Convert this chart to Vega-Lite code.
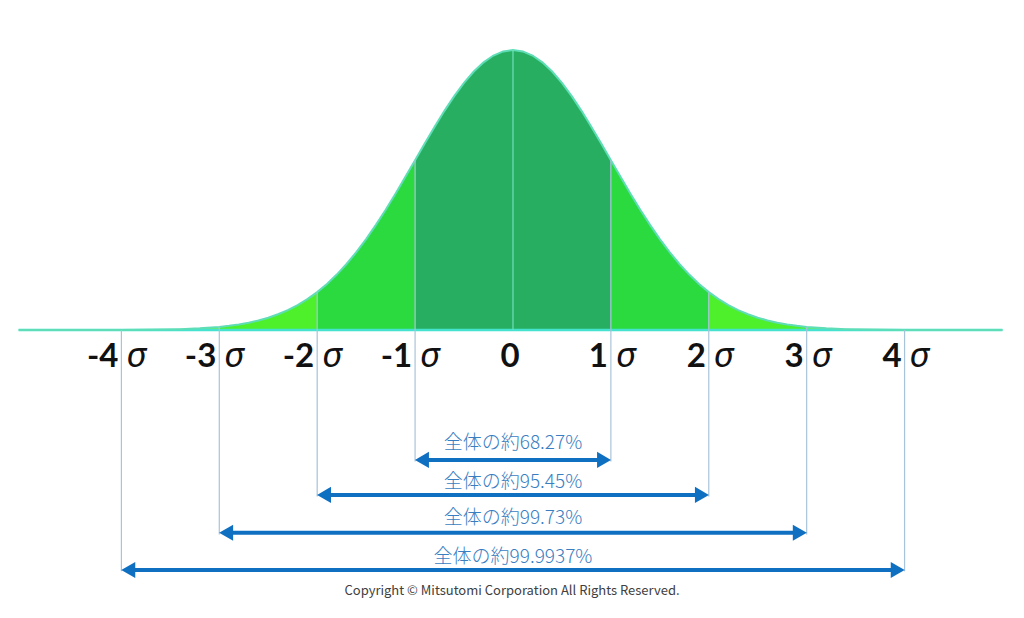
{
  "$schema": "https://vega.github.io/schema/vega-lite/v6.json",
  "width": 1024,
  "height": 618,
  "padding": 0,
  "autosize": {"type": "fit", "contains": "padding"},
  "background": "white",
  "config": {"view": {"stroke": null}},
  "datasets": {
    "curve": [
      {"x": -1.0, "y": 0.60653, "band": "c", "seg": "c"},
      {"x": -0.9, "y": 0.66698, "band": "c", "seg": "c"},
      {"x": -0.8, "y": 0.72615, "band": "c", "seg": "c"},
      {"x": -0.7, "y": 0.78270, "band": "c", "seg": "c"},
      {"x": -0.6, "y": 0.83527, "band": "c", "seg": "c"},
      {"x": -0.5, "y": 0.88250, "band": "c", "seg": "c"},
      {"x": -0.4, "y": 0.92312, "band": "c", "seg": "c"},
      {"x": -0.3, "y": 0.95600, "band": "c", "seg": "c"},
      {"x": -0.2, "y": 0.98020, "band": "c", "seg": "c"},
      {"x": -0.1, "y": 0.99501, "band": "c", "seg": "c"},
      {"x": 0.0, "y": 1.0, "band": "c", "seg": "c"},
      {"x": 0.1, "y": 0.99501, "band": "c", "seg": "c"},
      {"x": 0.2, "y": 0.98020, "band": "c", "seg": "c"},
      {"x": 0.3, "y": 0.95600, "band": "c", "seg": "c"},
      {"x": 0.4, "y": 0.92312, "band": "c", "seg": "c"},
      {"x": 0.5, "y": 0.88250, "band": "c", "seg": "c"},
      {"x": 0.6, "y": 0.83527, "band": "c", "seg": "c"},
      {"x": 0.7, "y": 0.78270, "band": "c", "seg": "c"},
      {"x": 0.8, "y": 0.72615, "band": "c", "seg": "c"},
      {"x": 0.9, "y": 0.66698, "band": "c", "seg": "c"},
      {"x": 1.0, "y": 0.60653, "band": "c", "seg": "c"},

      {"x": 1.0, "y": 0.60653, "band": "b1", "seg": "1R"},
      {"x": 1.1, "y": 0.54607, "band": "b1", "seg": "1R"},
      {"x": 1.2, "y": 0.48675, "band": "b1", "seg": "1R"},
      {"x": 1.3, "y": 0.42956, "band": "b1", "seg": "1R"},
      {"x": 1.4, "y": 0.37531, "band": "b1", "seg": "1R"},
      {"x": 1.5, "y": 0.32465, "band": "b1", "seg": "1R"},
      {"x": 1.6, "y": 0.27804, "band": "b1", "seg": "1R"},
      {"x": 1.7, "y": 0.23575, "band": "b1", "seg": "1R"},
      {"x": 1.8, "y": 0.19790, "band": "b1", "seg": "1R"},
      {"x": 1.9, "y": 0.16447, "band": "b1", "seg": "1R"},
      {"x": 2.0, "y": 0.13534, "band": "b1", "seg": "1R"},
      {"x": -1.0, "y": 0.60653, "band": "b1", "seg": "1L"},
      {"x": -1.1, "y": 0.54607, "band": "b1", "seg": "1L"},
      {"x": -1.2, "y": 0.48675, "band": "b1", "seg": "1L"},
      {"x": -1.3, "y": 0.42956, "band": "b1", "seg": "1L"},
      {"x": -1.4, "y": 0.37531, "band": "b1", "seg": "1L"},
      {"x": -1.5, "y": 0.32465, "band": "b1", "seg": "1L"},
      {"x": -1.6, "y": 0.27804, "band": "b1", "seg": "1L"},
      {"x": -1.7, "y": 0.23575, "band": "b1", "seg": "1L"},
      {"x": -1.8, "y": 0.19790, "band": "b1", "seg": "1L"},
      {"x": -1.9, "y": 0.16447, "band": "b1", "seg": "1L"},
      {"x": -2.0, "y": 0.13534, "band": "b1", "seg": "1L"},

      {"x": 2.0, "y": 0.13534, "band": "b2", "seg": "2R"},
      {"x": 2.1, "y": 0.11025, "band": "b2", "seg": "2R"},
      {"x": 2.2, "y": 0.08892, "band": "b2", "seg": "2R"},
      {"x": 2.3, "y": 0.07101, "band": "b2", "seg": "2R"},
      {"x": 2.4, "y": 0.05613, "band": "b2", "seg": "2R"},
      {"x": 2.5, "y": 0.04394, "band": "b2", "seg": "2R"},
      {"x": 2.6, "y": 0.03405, "band": "b2", "seg": "2R"},
      {"x": 2.7, "y": 0.02612, "band": "b2", "seg": "2R"},
      {"x": 2.8, "y": 0.01984, "band": "b2", "seg": "2R"},
      {"x": 2.9, "y": 0.01492, "band": "b2", "seg": "2R"},
      {"x": 3.0, "y": 0.01111, "band": "b2", "seg": "2R"},
      {"x": -2.0, "y": 0.13534, "band": "b2", "seg": "2L"},
      {"x": -2.1, "y": 0.11025, "band": "b2", "seg": "2L"},
      {"x": -2.2, "y": 0.08892, "band": "b2", "seg": "2L"},
      {"x": -2.3, "y": 0.07101, "band": "b2", "seg": "2L"},
      {"x": -2.4, "y": 0.05613, "band": "b2", "seg": "2L"},
      {"x": -2.5, "y": 0.04394, "band": "b2", "seg": "2L"},
      {"x": -2.6, "y": 0.03405, "band": "b2", "seg": "2L"},
      {"x": -2.7, "y": 0.02612, "band": "b2", "seg": "2L"},
      {"x": -2.8, "y": 0.01984, "band": "b2", "seg": "2L"},
      {"x": -2.9, "y": 0.01492, "band": "b2", "seg": "2L"},
      {"x": -3.0, "y": 0.01111, "band": "b2", "seg": "2L"},

      {"x": 3.0, "y": 0.01111, "band": "b3", "seg": "3R"},
      {"x": 3.2, "y": 0.00598, "band": "b3", "seg": "3R"},
      {"x": 3.4, "y": 0.00309, "band": "b3", "seg": "3R"},
      {"x": 3.6, "y": 0.00153, "band": "b3", "seg": "3R"},
      {"x": 3.8, "y": 0.00073, "band": "b3", "seg": "3R"},
      {"x": 4.0, "y": 0.00034, "band": "b3", "seg": "3R"},
      {"x": 4.5, "y": 0.00004, "band": "b3", "seg": "3R"},
      {"x": 5.0, "y": 0.0, "band": "b3", "seg": "3R"},
      {"x": -3.0, "y": 0.01111, "band": "b3", "seg": "3L"},
      {"x": -3.2, "y": 0.00598, "band": "b3", "seg": "3L"},
      {"x": -3.4, "y": 0.00309, "band": "b3", "seg": "3L"},
      {"x": -3.6, "y": 0.00153, "band": "b3", "seg": "3L"},
      {"x": -3.8, "y": 0.00073, "band": "b3", "seg": "3L"},
      {"x": -4.0, "y": 0.00034, "band": "b3", "seg": "3L"},
      {"x": -4.5, "y": 0.00004, "band": "b3", "seg": "3L"},
      {"x": -5.05, "y": 0.0, "band": "b3", "seg": "3L"}
    ],
    "vlines": [
      {"x": -4, "y": 0.0, "y2": -0.862},
      {"x": -3, "y": 0.011, "y2": -0.73},
      {"x": -2, "y": 0.135, "y2": -0.595},
      {"x": -1, "y": 0.6065, "y2": -0.47},
      {"x": 1, "y": 0.6065, "y2": -0.47},
      {"x": 2, "y": 0.135, "y2": -0.595},
      {"x": 3, "y": 0.011, "y2": -0.73},
      {"x": 4, "y": 0.0, "y2": -0.862}
    ],
    "arrows": [
      {"x": -0.93, "x2": 0.93, "y": -0.464, "label": "全体の約68.27%", "ly": -0.404, "xl": -0.93, "xr": 0.93, "xc": 0},
      {"x": -1.93, "x2": 1.93, "y": -0.589, "label": "全体の約95.45%", "ly": -0.542, "xl": -1.93, "xr": 1.93, "xc": 0},
      {"x": -2.93, "x2": 2.93, "y": -0.724, "label": "全体の約99.73%", "ly": -0.671, "xl": -2.93, "xr": 2.93, "xc": 0},
      {"x": -3.93, "x2": 3.93, "y": -0.857, "label": "全体の約99.9937%", "ly": -0.81, "xl": -3.93, "xr": 3.93, "xc": 0}
    ],
    "nums": [
      {"x": -4, "y": -0.096, "num": "-4"},
      {"x": -3, "y": -0.096, "num": "-3"},
      {"x": -2, "y": -0.096, "num": "-2"},
      {"x": -1, "y": -0.096, "num": "-1"},
      {"x": 1, "y": -0.096, "num": "1"},
      {"x": 2, "y": -0.096, "num": "2"},
      {"x": 3, "y": -0.096, "num": "3"},
      {"x": 4, "y": -0.096, "num": "4"}
    ]
  },
  "encoding": {
    "x": {"field": "x", "type": "quantitative", "scale": {"domain": [-5.24, 5.22], "nice": false, "zero": false}, "axis": null},
    "y": {"field": "y", "type": "quantitative", "scale": {"domain": [-1.02857, 1.17857], "nice": false, "zero": false}, "axis": null}
  },
  "layer": [
    {
      "data": {"name": "curve"},
      "mark": {"type": "area", "opacity": 1},
      "encoding": {
        "y": {"field": "y", "type": "quantitative", "stack": null, "scale": {"domain": [-1.02857, 1.17857], "nice": false, "zero": false}, "axis": null},
        "color": {"field": "band", "type": "nominal", "scale": {"domain": ["c", "b1", "b2", "b3"], "range": ["#27AE60", "#2BDA3E", "#4DF02B", "#6CF24A"]}, "legend": null},
        "detail": {"field": "seg"}
      }
    },
    {
      "data": {"values": [{"x": -5.05, "x2": 5.0, "y": 0}]},
      "mark": {"type": "rule", "color": "#45E3CF", "strokeWidth": 2.5},
      "encoding": {"x2": {"field": "x2"}}
    },
    {
      "data": {"name": "curve"},
      "mark": {"type": "line", "color": "#5EDDB6", "strokeWidth": 2},
      "encoding": {"order": {"field": "x", "type": "quantitative"}}
    },
    {
      "data": {"values": [{"x": 0, "y": 0, "y2": 1}]},
      "mark": {"type": "rule", "color": "#6FE0B8", "strokeWidth": 1.2},
      "encoding": {"y2": {"field": "y2"}}
    },
    {
      "data": {"name": "vlines"},
      "mark": {"type": "rule", "color": "#A8C4DA", "strokeWidth": 1.2},
      "encoding": {"y2": {"field": "y2"}}
    },
    {
      "data": {"name": "arrows"},
      "mark": {"type": "rule", "color": "#0F6FC1", "strokeWidth": 4},
      "encoding": {"x2": {"field": "x2"}}
    },
    {
      "data": {"name": "arrows"},
      "mark": {"type": "point", "shape": "triangle-left", "filled": true, "color": "#0F6FC1", "size": 260, "opacity": 1},
      "encoding": {"x": {"field": "xl", "type": "quantitative"}}
    },
    {
      "data": {"name": "arrows"},
      "mark": {"type": "point", "shape": "triangle-right", "filled": true, "color": "#0F6FC1", "size": 260, "opacity": 1},
      "encoding": {"x": {"field": "xr", "type": "quantitative"}}
    },
    {
      "data": {"name": "arrows"},
      "mark": {"type": "text", "font": "Noto Sans CJK JP", "fontSize": 19, "fontWeight": 300, "color": "#3A7EC2", "align": "center", "baseline": "middle"},
      "encoding": {
        "x": {"field": "xc", "type": "quantitative"},
        "y": {"field": "ly", "type": "quantitative"},
        "text": {"field": "label"}
      }
    },
    {
      "data": {"name": "nums"},
      "mark": {"type": "text", "font": "Lato", "fontSize": 33, "fontWeight": "bold", "color": "#111111", "align": "right", "baseline": "middle", "dx": -3},
      "encoding": {
        "text": {"field": "num"}
      }
    },
    {
      "data": {"name": "nums"},
      "mark": {"type": "text", "font": "Noto Sans", "fontSize": 35, "fontStyle": "italic", "fontWeight": "normal", "color": "#111111", "align": "left", "baseline": "middle", "dx": 5, "dy": -1},
      "encoding": {
        "text": {"value": "σ"}
      }
    },
    {
      "data": {"values": [{"x": -0.03, "y": -0.096, "t": "0"}]},
      "mark": {"type": "text", "font": "Lato", "fontSize": 33, "fontWeight": "bold", "color": "#111111", "align": "center", "baseline": "middle"},
      "encoding": {
        "text": {"field": "t"}
      }
    },
    {
      "data": {"values": [{"x": -0.01, "y": -0.932, "t": "Copyright ©  Mitsutomi Corporation All Rights Reserved."}]},
      "mark": {"type": "text", "font": "Noto Sans CJK JP", "fontSize": 13, "color": "#404040", "align": "center", "baseline": "middle"},
      "encoding": {
        "text": {"field": "t"}
      }
    }
  ]
}
